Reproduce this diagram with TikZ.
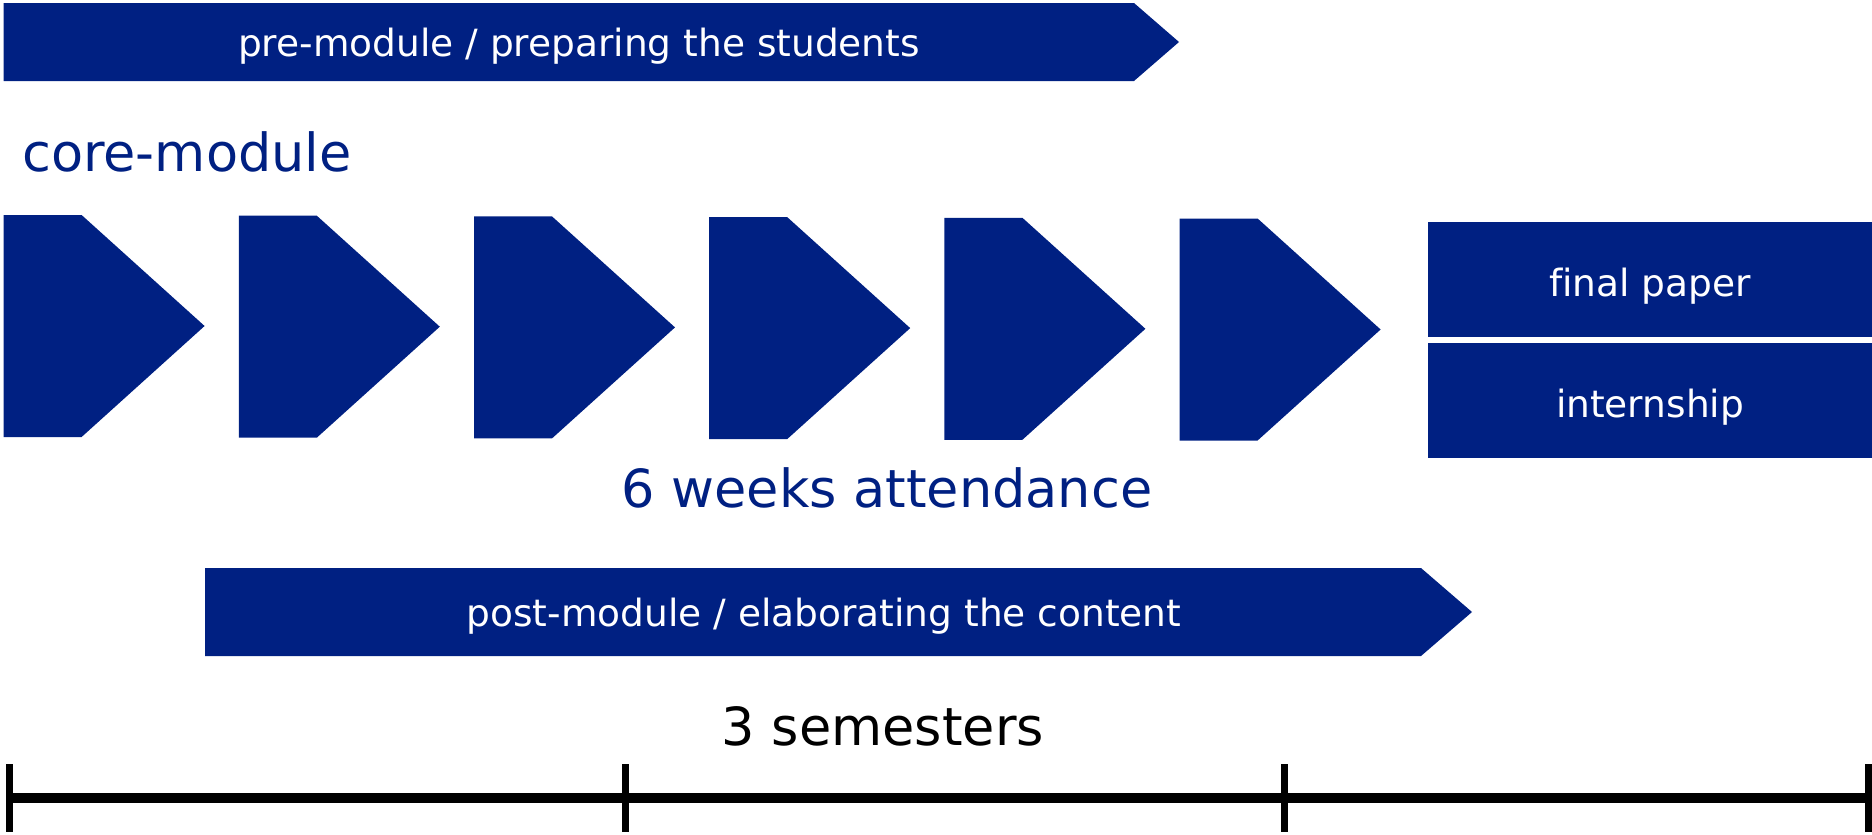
\documentclass[tikz,border=0pt]{standalone}
\usepackage{fontspec}
\setmainfont[Ligatures=NoCommon]{DejaVu Sans}
\definecolor{uniblue}{RGB}{0,32,130}
\begin{document}
\begin{tikzpicture}[x=1pt,y=-1pt,
  shapefill/.style={fill=uniblue,draw=none},
  bannertext/.style={text=white,anchor=base,inner sep=0pt,font=\fontsize{37.5}{45}\selectfont},
  bigtext/.style={text=uniblue,anchor=base,inner sep=0pt,font=\fontsize{52.5}{60}\selectfont},
  tick/.style={line width=7pt,draw=black},
]
\useasboundingbox (0,0) rectangle (1872,835);
% top banner
\fill[shapefill] (3.6,3) -- (1134,3) -- (1179,42) -- (1134,81) -- (3.6,81) -- cycle;
\node[bannertext] (pre) at (579,56) {pre-module / preparing the students};
% core-module label
\node[bigtext,anchor=base west] (core) at (22,171) {core-module};
% chevrons
\foreach \i in {0,...,5}{
  \pgfmathsetmacro{\L}{3.6+235.2*\i}
  \pgfmathsetmacro{\T}{215+0.7*\i}
  \pgfmathsetmacro{\B}{437+0.7*\i}
  \fill[shapefill] (\L,\T) -- (\L+78,\T) -- (\L+201,{(\T+\B)/2}) -- (\L+78,\B) -- (\L,\B) -- cycle;
}
% right boxes
\fill[shapefill] (1428,222) rectangle (1872,337);
\fill[shapefill] (1428,343) rectangle (1872,458);
\node[bannertext] (paper) at (1650,296) {final paper};
\node[bannertext] (intern) at (1650,417) {internship};
% attendance
\node[bigtext] (weeks) at (887,507) {6 weeks attendance};
% bottom banner
\fill[shapefill] (205,568) -- (1421,568) -- (1472,612) -- (1421,656) -- (205,656) -- cycle;
\node[bannertext] (post) at (824,626) {post-module / elaborating the content};
% semesters
\node[bigtext,text=black] (sem) at (883,745) {3 semesters};
% timeline
\coordinate (t0) at (9.5,798);
\coordinate (t1) at (625.6,798);
\coordinate (t2) at (1284.6,798);
\coordinate (t3) at (1868,798);
\coordinate (tend) at (1872,798);
\draw[line width=10pt] (t0) -- (tend);
\foreach \c in {t0,t1,t2,t3}{
  \draw[tick] ([yshift=34pt]\c) -- ([yshift=-34pt]\c);
}
\end{tikzpicture}
\end{document}
